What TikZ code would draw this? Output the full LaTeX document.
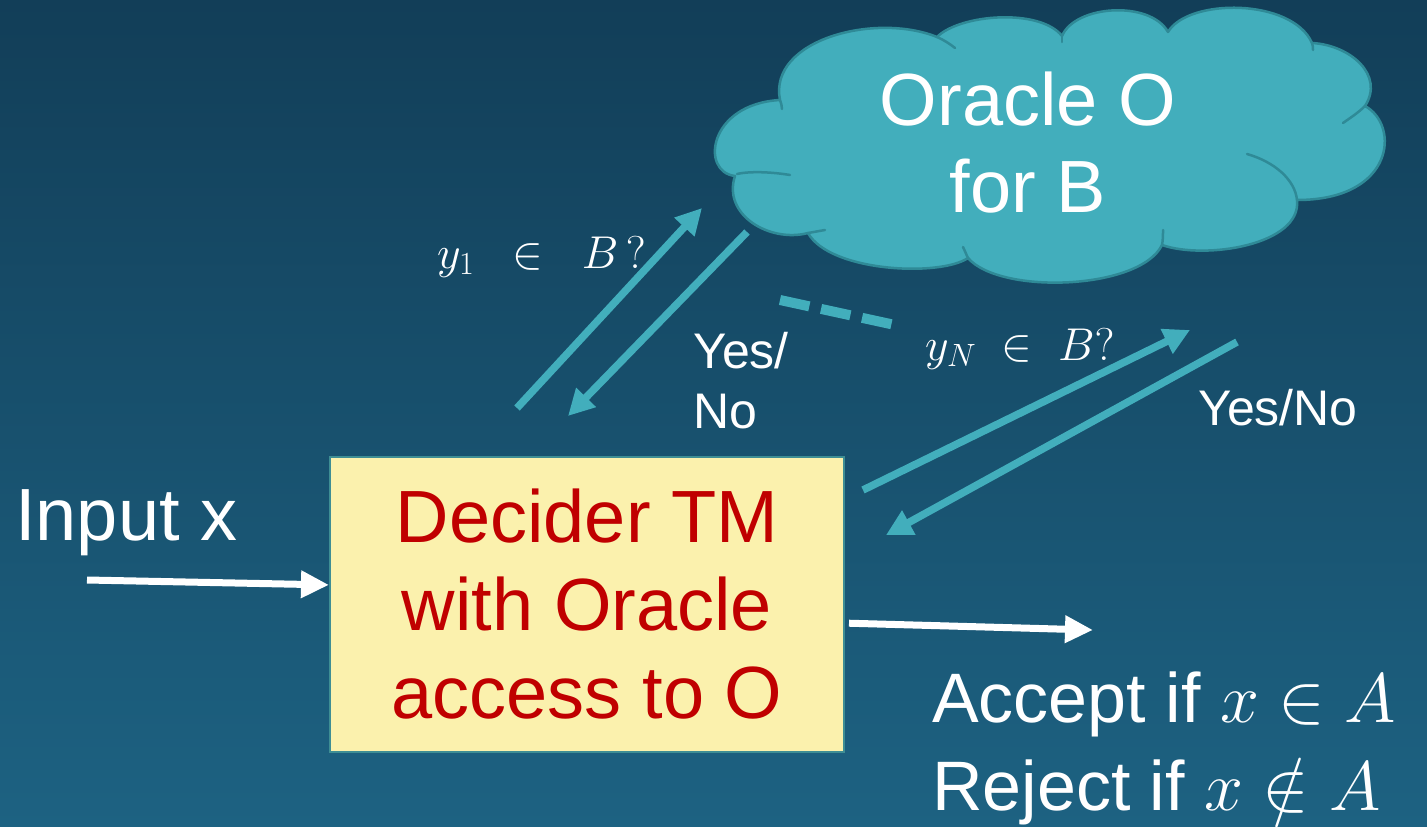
\documentclass[tikz,border=0pt]{standalone}
\usepackage{fix-cm}
\usepackage{fontspec}
\setmainfont{Liberation Sans}
\usetikzlibrary{arrows.meta,calc}
\definecolor{bgtop}{HTML}{123E58}
\definecolor{bgbot}{HTML}{1D6282}
\definecolor{oteal}{HTML}{42AEBC}
\definecolor{cloudedge}{HTML}{2F8A97}
\definecolor{boxfill}{HTML}{FBF1AD}
\definecolor{boxedge}{HTML}{3E8E94}
\definecolor{tmred}{HTML}{C00000}
\tikzset{
  txt/.style={text=white, inner sep=0pt},
  bigtxt/.style={txt, font=\fontsize{74pt}{88pt}\selectfont},
  midtxt/.style={txt, font=\fontsize{70pt}{88pt}\selectfont},
  smalltxt/.style={txt, font=\fontsize{50pt}{60pt}\selectfont},
  mathtxt/.style={txt, font=\fontsize{46pt}{52pt}\selectfont},
  tealarrow/.style={draw=oteal, line width=7.5pt, -{Triangle[length=26pt,width=26pt]}},
  whitearrow/.style={draw=white, line width=7pt, -{Triangle[length=28pt,width=26pt]}},
  tmbox/.style={draw=boxedge, line width=2pt, fill=boxfill, text=tmred,
    minimum width=514pt, minimum height=295pt, align=center,
    font=\fontsize{74pt}{88pt}\selectfont, inner sep=0pt},
  cloudline/.style={draw=cloudedge, line width=2.5pt, line join=round},
  cloudinner/.style={draw=cloudedge, line width=2.5pt, line cap=round}
}
\begin{document}
\begin{tikzpicture}[x=1pt,y=-1pt]
\shade[top color=bgtop, bottom color=bgbot] (0,0) rectangle (1427,827);
\useasboundingbox (0,0) rectangle (1427,827);

% oracle cloud
\coordinate (oracle) at (1062,150);
\path[cloudline, fill=oteal]
  (735,176) .. controls (700,172) and (708,104) .. (780,100)
  .. controls (768,40) and (875,12) .. (937,37)
  .. controls (960,14) and (1040,8) .. (1062,36)
  .. controls (1075,5) and (1150,0) .. (1168,32)
  .. controls (1188,-2) and (1292,-2) .. (1312,43)
  .. controls (1350,45) and (1385,75) .. (1365,106)
  .. controls (1400,125) and (1395,200) .. (1297,200)
  .. controls (1302,245) and (1205,260) .. (1162,245)
  .. controls (1140,290) and (1000,295) .. (968,258)
  .. controls (940,277) and (830,272) .. (808,233)
  .. controls (770,243) and (722,215) .. (735,176) -- cycle;
\draw[cloudinner] (737,174) .. controls (750,171) and (772,172) .. (790,175);
\draw[cloudinner] (780,100) .. controls (781,103) and (782,106) .. (782,109);
\draw[cloudinner] (937,37) .. controls (944,40) and (950,44) .. (955,48);
\draw[cloudinner] (1062,36) .. controls (1062,38) and (1062,40) .. (1062,42);
\draw[cloudinner] (1312,43) .. controls (1313,45) and (1313,48) .. (1313,50);
\draw[cloudinner] (1365,106) .. controls (1358,113) and (1350,118) .. (1343,123);
\draw[cloudinner] (1297,200) .. controls (1295,180) and (1275,162) .. (1247,154);
\draw[cloudinner] (1162,245) .. controls (1163,240) and (1163,235) .. (1163,230);
\draw[cloudinner] (968,258) .. controls (966,254) and (965,251) .. (963,247);
\draw[cloudinner] (808,233) .. controls (814,232) and (819,231) .. (825,230);
\node[bigtxt, anchor=base] (olabel1) at (1028,125) {Oracle O};
\node[bigtxt, anchor=base] (olabel2) at (1028,212) {for B};

% decider box
\node[tmbox] (tm) at (587,604.5) {Decider TM\\with Oracle\\access to O};

% input
\node[bigtxt, anchor=base west] (inlabel) at (15,540) {Input x};
\coordinate (inS) at (87,580);
\draw[whitearrow] (inS) -- ($(tm.north west)!0.434!(tm.south west)$);

% output
\coordinate (outE) at (1093,630);
\draw[whitearrow] ($(tm.north east)!0.563!(tm.south east)+(4,0)$) -- (outE);
\node[midtxt, anchor=base west] (acc) at (932,722) {Accept if $x\in A$};
\node[midtxt, anchor=base west] (rej) at (932,810) {Reject if $x\notin A$};

% first query
\coordinate (q1s) at (517,408);
\coordinate (q1e) at (702,208);
\coordinate (a1s) at (747,232);
\coordinate (a1e) at (568,416);
\draw[tealarrow] (q1s) -- (q1e);
\draw[tealarrow] (a1s) -- (a1e);
\node[mathtxt, anchor=base west] (q1lab) at (437,268) {$y_1\;\;\in\;\;B\,?$};
\node[smalltxt, anchor=base west] (yes1) at (693,368) {Yes/};
\node[smalltxt, anchor=base west] (no1) at (693,428) {No};

% dashes
\coordinate (d1) at (780,300);
\coordinate (d2) at (895,325);
\draw[draw=oteal, line width=10pt, dash pattern=on 30pt off 12pt] (d1) -- (d2);

% N-th query
\coordinate (qNs) at (863,490);
\coordinate (qNe) at (1190,330);
\coordinate (aNs) at (1237,342);
\coordinate (aNe) at (886,535);
\draw[tealarrow] (qNs) -- (qNe);
\draw[tealarrow] (aNs) -- (aNe);
\node[mathtxt, anchor=base west] (qNlab) at (925,360) {$y_N\;\in\; B?$};
\node[smalltxt, anchor=base west] (yesN) at (1198,425) {Yes/No};
\end{tikzpicture}
\end{document}
